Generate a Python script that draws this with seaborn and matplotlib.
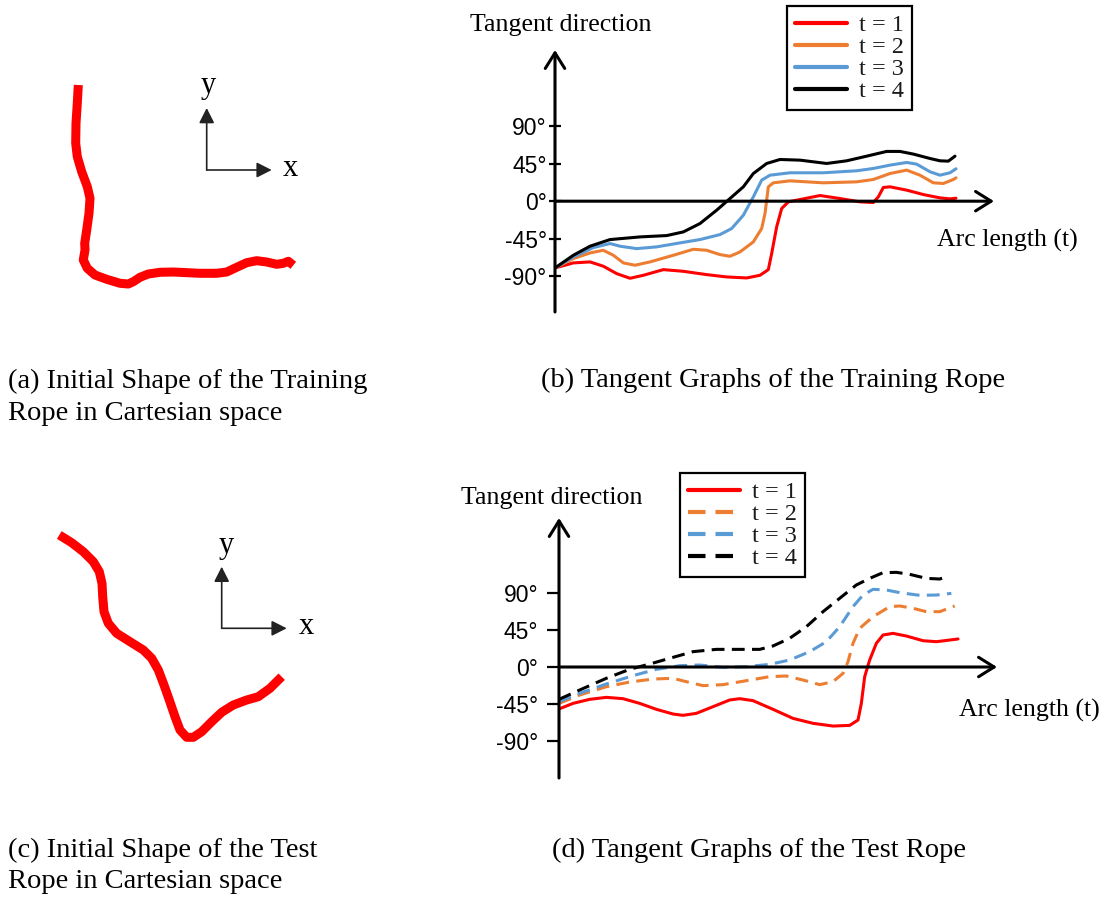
import matplotlib
matplotlib.use("Agg")
import matplotlib.pyplot as plt
import numpy as np
import pandas as pd
import seaborn as sns

W, H = 1109, 899

# ---------------------------------------------------------------- data
# Rope outlines in Cartesian space (x to the right, y upward)
rope_a_x = [78.3, 77.3, 76.0, 75.7, 77.3, 81.7, 87.3, 90.0, 89.0, 86.7, 84.7, 85.0, 83.3,
            87.3, 95.0, 106.7, 120.0, 128.3, 133.3, 140.0, 148.3, 160.0, 173.3, 200.0,
            216.7, 226.7, 236.7, 246.7, 256.7, 266.7, 276.7, 283.3, 288.3, 293.3]
rope_a_y = [235.0, 216.7, 196.7, 176.7, 163.3, 148.3, 133.3, 121.7, 106.7, 90.0, 76.7, 70.0,
            60.0, 51.7, 45.0, 40.7, 36.7, 36.0, 38.3, 42.7, 46.0, 47.7, 48.0, 46.7,
            46.7, 48.0, 52.7, 57.3, 59.3, 58.0, 55.7, 56.7, 58.7, 54.7]

rope_c_x = [59.3, 71.7, 83.3, 93.3, 99.3, 102.0, 102.7, 104.0, 108.3, 116.7, 130.0, 143.3,
            151.7, 158.3, 164.0, 169.3, 175.0, 180.0, 186.7, 193.3, 201.7, 211.7, 221.7,
            233.3, 246.7, 258.3, 270.0, 281.7]
rope_c_y = [245.0, 237.3, 228.3, 218.3, 208.3, 196.7, 183.3, 168.3, 156.7, 146.7, 138.3, 130.0,
            121.7, 110.0, 95.0, 80.0, 63.3, 50.0, 42.7, 42.7, 48.3, 58.3, 67.7,
            75.0, 80.0, 83.3, 91.7, 103.3]

steps = ["t = 1", "t = 2", "t = 3", "t = 4"]
step_colors = ["#ff0000", "#ed7d31", "#5b9bd5", "#000000"]

# Tangent direction (degrees) against normalised arc length: training rope
train_arc = [
    [0, .0457, .0873, .1205, .1538, .187, .2203, .2702, .32, .3782, .4281, .478, .5112, .532,
     .5403, .5528, .5653, .5819, .611, .6608, .7107, .7606, .7939, .8063, .8188, .8354, .877,
     .9185, .9601, .985, 1.0],
    [0, .0457, .0873, .1205, .1455, .1704, .1995, .2369, .2951, .345, .3782, .4115, .4364,
     .4613, .4946, .5154, .5237, .532, .5445, .586, .6692, .7523, .7939, .8354, .877, .9102,
     .9435, .9684, .9933, 1.0],
    [0, .0457, .0956, .1372, .1621, .2037, .2535, .3117, .3616, .4115, .4406, .4697, .4946,
     .5154, .5362, .586, .6692, .7523, .7939, .8354, .877, .9019, .9352, .9601, .985, 1.0],
    [0, .0457, .0873, .1372, .212, .2785, .32, .3616, .4032, .4364, .4697, .4946, .5279, .5611,
     .611, .6775, .7273, .7772, .8271, .8603, .8936, .9352, .9601, .9809, .9975],
]
train_deg = [
    [-80.4, -74.3, -73.1, -78.3, -87.2, -92.8, -89.2, -82.4, -84.4, -88.4, -91.2, -92.4, -89.2,
     -82.4, -63.1, -30.9, -8.8, -0.8, 2.0, 6.8, 3.2, -0.8, -1.6, 5.2, 16.5, 17.3, 13.3, 8.0,
     4.0, 2.8, 3.6],
    [-80.4, -69.1, -62.3, -59.1, -65.1, -74.3, -77.1, -73.1, -65.1, -57.9, -59.1, -64.3, -66.3,
     -61.1, -49.0, -32.9, -14.9, 17.3, 22.1, 24.5, 22.1, 23.3, 26.1, 33.3, 37.4, 31.3, 22.1,
     21.3, 26.1, 28.1],
    [-80.4, -67.1, -55.9, -51.0, -54.2, -57.1, -55.0, -50.2, -46.2, -40.2, -32.9, -16.9, 5.2,
     25.3, 31.3, 34.2, 34.2, 36.6, 39.4, 43.4, 46.6, 44.6, 35.4, 31.3, 34.2, 39.0],
    [-80.4, -65.1, -54.2, -46.2, -43.0, -41.4, -37.0, -26.9, -10.8, 3.2, 17.3, 33.3, 45.4,
     50.2, 49.4, 45.4, 48.6, 54.2, 59.9, 59.9, 56.7, 51.4, 48.6, 48.2, 54.2],
]

# Tangent direction (degrees) against normalised arc length: test rope
test_arc = [
    [0, .0351, .0769, .1186, .1604, .2022, .2439, .2857, .3108, .3442, .386, .4277, .4528,
     .4862, .5363, .5865, .6366, .6867, .7285, .7494, .7577, .7661, .7786, .7953, .812, .8371,
     .8705, .9123, .9457, .9791, 1.0],
    [0, .0518, .1186, .1771, .2356, .2857, .3191, .3609, .411, .4695, .528, .5698, .6115,
     .6533, .6867, .7118, .7243, .7368, .7535, .787, .8287, .8538, .8872, .9206, .9541, .9916],
    [0, .0518, .1186, .1855, .2439, .3024, .3525, .411, .4695, .528, .5781, .6282, .67, .7034,
     .7368, .7619, .787, .8204, .8538, .9039, .9457, .9833],
    [0, .0518, .1186, .1771, .2272, .2857, .3358, .3943, .4528, .5029, .5363, .5781, .6199,
     .6617, .7034, .7452, .7786, .812, .8454, .8789, .9206, .9541, .9724],
]
test_deg = [
    [-50.9, -44.1, -39.2, -36.8, -38.4, -44.1, -51.3, -57.0, -58.6, -56.2, -48.1, -40.0, -38.4,
     -40.8, -51.3, -62.3, -68.3, -71.6, -70.8, -64.3, -44.1, -11.7, 8.5, 28.7, 38.8, 40.8,
     37.6, 31.9, 30.7, 32.7, 34.0],
    [-44.1, -34.0, -23.9, -18.2, -14.6, -13.7, -17.8, -22.6, -21.4, -16.6, -11.7, -10.9, -15.8,
     -21.4, -17.8, -7.7, 6.5, 28.7, 46.9, 61.0, 73.2, 74.0, 71.2, 67.1, 67.1, 74.0],
    [-42.0, -31.9, -20.6, -10.5, -2.8, 1.6, 2.4, -0.4, 0.4, 3.2, 8.5, 18.6, 30.7, 48.9, 73.2,
     87.3, 94.2, 93.4, 90.2, 86.9, 87.3, 89.3],
    [-39.2, -27.9, -13.7, -2.8, 3.6, 11.7, 18.6, 21.4, 21.4, 21.4, 25.5, 34.8, 48.9, 67.1,
     83.3, 99.5, 107.5, 114.4, 114.8, 112.4, 107.5, 106.7, 109.6],
]

angle_ticks = [-90, -45, 0, 45, 90]
angle_tick_labels = ["-90°", "-45°", "0°", "45°", "90°"]

title_y = "Tangent direction"
title_x = "Arc length (t)"
captions = {
    "a": ["(a) Initial Shape of the Training", "Rope in Cartesian space"],
    "b": ["(b) Tangent Graphs of the Training Rope"],
    "c": ["(c) Initial Shape of the Test", "Rope in Cartesian space"],
    "d": ["(d) Tangent Graphs of the Test Rope"],
}

# ---------------------------------------------------------------- style
sns.set_style("white")
plt.rcParams["font.family"] = ["Liberation Serif", "DejaVu Serif"]
plt.rcParams["text.color"] = "black"
plt.rcParams["ytick.color"] = "black"
plt.rcParams["ytick.labelcolor"] = "black"
SERIF = ["Liberation Serif", "DejaVu Serif"]
SANS = ["Liberation Sans Narrow", "Liberation Sans", "DejaVu Sans"]

fig = plt.figure(figsize=(W / 100, H / 100), dpi=100)
fig.patch.set_facecolor("white")


def add_box(x0, y0, x1, y1):
    """Axes placed by its pixel box (origin top-left)."""
    ax = fig.add_axes([x0 / W, 1 - y1 / H, (x1 - x0) / W, (y1 - y0) / H])
    ax.patch.set_visible(False)
    for s in ax.spines.values():
        s.set_visible(False)
    return ax


# ---------------------------------------------------------------- rope panels
def rope_panel(box, xs, ys, ylim):
    ax = add_box(*box)
    sns.lineplot(x=xs, y=ys, sort=False, estimator=None, color="#ff0000",
                 linewidth=6.5, ax=ax)
    for ln in ax.lines:
        ln.set_solid_capstyle("butt")
        ln.set_solid_joinstyle("round")
    ax.set_xlim(0, 330)
    ax.set_ylim(0, ylim)
    ax.set_xticks([])
    ax.set_yticks([])
    ax.set_xlabel("")
    ax.set_ylabel("")
    return ax


rope_panel((0, 60, 330, 320), rope_a_x, rope_a_y, 260)
rope_panel((0, 500, 330, 780), rope_c_x, rope_c_y, 280)


# ---------------------------------------------------------------- tangent panels
def tangent_panel(box, xmax, ylim, arcs, degs, dashed, legend_xy,
                  tick_dir, tick_len, tick_pad):
    ax = add_box(*box)
    frames = []
    for name, a, d in zip(steps, arcs, degs):
        frames.append(pd.DataFrame({"arc": a, "angle": d, "step": name}))
    df = pd.concat(frames, ignore_index=True)
    if dashed:
        dashes = {steps[0]: "", steps[1]: (4.2, 2.4), steps[2]: (4.2, 2.4), steps[3]: (4.2, 2.4)}
    else:
        dashes = {s: "" for s in steps}
    sns.lineplot(data=df, x="arc", y="angle", hue="step", style="step",
                 hue_order=steps, style_order=steps,
                 palette=dict(zip(steps, step_colors)), dashes=dashes,
                 sort=False, estimator=None, linewidth=2.2, legend=False, ax=ax)
    for ln in ax.lines:
        ln.set_solid_joinstyle("round")
    ax.set_xlim(0, xmax)
    ax.set_ylim(*ylim)
    ax.set_xlabel("")
    ax.set_ylabel("")
    ax.set_xticks([])
    ax.set_yticks(angle_ticks)
    ax.set_yticklabels(angle_tick_labels, family=SANS, size=16.5, color="black")
    ax.tick_params(axis="y", direction=tick_dir, length=tick_len, width=1.6,
                   pad=tick_pad, color="black", left=True)

    # axis arrows
    arrow = dict(arrowstyle="->,head_length=0.8,head_width=0.5", mutation_scale=14,
                 lw=2.2, color="black", shrinkA=0, shrinkB=0)
    ax.annotate("", xy=(xmax, 0), xytext=(0, 0), arrowprops=arrow, annotation_clip=False)
    ax.annotate("", xy=(0, ylim[1]), xytext=(0, ylim[0]), arrowprops=arrow,
                annotation_clip=False)

    handles = list(ax.lines[:4])
    leg = ax.legend(handles, steps, loc="upper left",
                    bbox_to_anchor=(legend_xy[0] / W, 1 - legend_xy[1] / H),
                    bbox_transform=fig.transFigure, borderaxespad=0,
                    frameon=True, fancybox=False, edgecolor="black", framealpha=1,
                    prop={"family": SERIF, "size": 17.5},
                    handlelength=2.15, handletextpad=0.5, labelspacing=0.0,
                    borderpad=0.33)
    leg.get_frame().set_linewidth(1.6)
    for h in leg.legend_handles:
        h.set_linewidth(3.0)
    for t in leg.get_texts():
        t.set_color("#1a1a1a")
    return ax


tangent_panel((555, 50, 994, 312), 1.0948, (-133.4, 182.0), train_arc, train_deg,
              False, (787, 6), "inout", 8, 2)
tangent_panel((559, 518, 997, 778), 1.0977, (-134.6, 180.7), test_arc, test_deg,
              True, (680, 473), "out", 9, 6)

# ---------------------------------------------------------------- overlay in pixel units
canvas = fig.add_axes([0, 0, 1, 1])
canvas.set_xlim(0, W)
canvas.set_ylim(H, 0)
canvas.axis("off")
canvas.patch.set_visible(False)


def xy_glyph(ox, oy, up_y, right_x, ylab_xy, xlab_xy):
    arr = dict(arrowstyle="-|>,head_length=0.65,head_width=0.33", mutation_scale=14,
               lw=1.2, color="#222222", shrinkA=0, shrinkB=0)
    canvas.annotate("", xy=(ox, up_y), xytext=(ox, oy), arrowprops=arr)
    canvas.annotate("", xy=(right_x, oy), xytext=(ox, oy), arrowprops=arr)
    canvas.text(*ylab_xy, "y", ha="center", va="center", fontsize=22, family=SERIF,
                color="black")
    canvas.text(*xlab_xy, "x", ha="center", va="center", fontsize=22, family=SERIF,
                color="black")


xy_glyph(206.7, 170, 108, 271.7, (208, 86), (290, 168))
xy_glyph(221.7, 628.3, 566.7, 286.7, (226.7, 545), (306, 626))

# axis titles of the tangent graphs
for (tx, ty) in [(470, 31), (461, 504)]:
    canvas.text(tx, ty, title_y, ha="left", va="baseline", fontsize=18.6, family=SERIF,
                color="black")
for (tx, ty) in [(937, 247), (959, 717)]:
    canvas.text(tx, ty, title_x, ha="left", va="baseline", fontsize=18.6, family=SERIF,
                color="black")

# sub-figure captions
cap_pos = {"a": (8, 388), "b": (541, 387), "c": (8, 857), "d": (552, 857)}
for key, lines in captions.items():
    cx, cy = cap_pos[key]
    for i, line in enumerate(lines):
        canvas.text(cx, cy + i * 31.5, line, ha="left", va="baseline",
                    fontsize=20.5, family=SERIF, color="black")

fig.savefig("out.png", dpi=100, facecolor="white")
